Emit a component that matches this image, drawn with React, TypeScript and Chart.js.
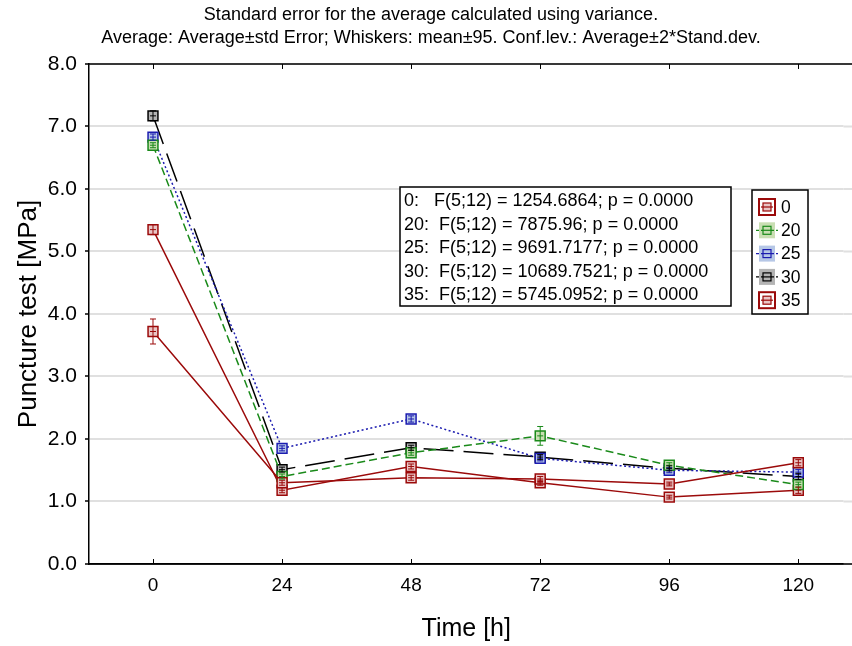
import React, { useEffect, useRef } from "react";
import { Chart, registerables } from "chart.js";

Chart.register(...registerables);

// ---------- data ----------
const TIMES = [0, 24, 48, 72, 96, 120];
const X_TICKS = [0, 24, 48, 72, 96, 120];
const Y_TICKS = [0, 1, 2, 3, 4, 5, 6, 7, 8];
const SERIES_LABELS = ["0", "20", "25", "30", "35"];

const VALUES_0 = [3.72, 1.3, 1.38, 1.36, 1.28, 1.62];
const VALUES_20 = [6.7, 1.4, 1.78, 2.05, 1.58, 1.27];
const VALUES_25 = [6.83, 1.85, 2.32, 1.69, 1.5, 1.47];
const VALUES_30 = [7.17, 1.51, 1.86, 1.71, 1.53, 1.4];
const VALUES_35 = [5.35, 1.18, 1.56, 1.3, 1.07, 1.18];

const ERR_0 = [0.2, 0.04, 0.04, 0.04, 0.03, 0.05];
const ERR_20 = [0.04, 0.04, 0.04, 0.15, 0.04, 0.04];
const ERR_25 = [0.05, 0.04, 0.05, 0.04, 0.04, 0.04];
const ERR_30 = [0.08, 0.04, 0.04, 0.04, 0.04, 0.05];
const ERR_35 = [0.08, 0.04, 0.04, 0.04, 0.03, 0.05];

const F_STATS = [
  "0:   F(5;12) = 1254.6864; p = 0.0000",
  "20:  F(5;12) = 7875.96; p = 0.0000",
  "25:  F(5;12) = 9691.7177; p = 0.0000",
  "30:  F(5;12) = 10689.7521; p = 0.0000",
  "35:  F(5;12) = 5745.0952; p = 0.0000",
];

const TITLE_LINES = [
  "Standard error for the average calculated using variance.",
  "Average: Average\u00b1std Error; Whiskers: mean\u00b195. Conf.lev.: Average\u00b12*Stand.dev.",
];
const X_TITLE = "Time [h]";
const Y_TITLE = "Puncture test [MPa]";

// ---------- styles ----------
const FONT = "Arial, 'Liberation Sans', sans-serif";
const STYLES = [
  { color: "#9b0a0a", fill: "#e9c6c6", dash: [] as number[], red: true },
  { color: "#1a8a1a", fill: "#c9deb3", dash: [8, 4], red: false },
  { color: "#1c1cb0", fill: "#b6c7e6", dash: [2, 2.5], red: false },
  { color: "#000000", fill: "#b4b4b4", dash: [30, 10], red: false },
  { color: "#9b0a0a", fill: "#e9c6c6", dash: [] as number[], red: true },
];
const ALL_VALUES = [VALUES_0, VALUES_20, VALUES_25, VALUES_30, VALUES_35];
const ALL_ERRS = [ERR_0, ERR_20, ERR_25, ERR_30, ERR_35];

const gridExtendPlugin = {
  id: "gridExtend",
  beforeDatasetsDraw(chart: any) {
    const { ctx, chartArea } = chart;
    const ys = chart.scales.y;
    ctx.save();
    ctx.strokeStyle = "#e0e0e0";
    ctx.lineWidth = 2;
    ctx.beginPath();
    Y_TICKS.forEach((t) => {
      const y = ys.getPixelForValue(t);
      ctx.moveTo(chartArea.right, y);
      ctx.lineTo(chart.width, y);
    });
    ctx.stroke();
    ctx.restore();
  },
};

const errorBarPlugin = {
  id: "errorBars",
  afterDatasetsDraw(chart: any) {
    const { ctx } = chart;
    const ys = chart.scales.y;
    chart.data.datasets.forEach((ds: any, di: number) => {
      const meta = chart.getDatasetMeta(di);
      const errs = ALL_ERRS[di];
      const st = STYLES[di];
      ctx.save();
      ctx.strokeStyle = st.color;
      ctx.lineWidth = 1;
      ctx.setLineDash([]);
      meta.data.forEach((pt: any, i: number) => {
        const v = ds.data[i].y;
        const e = errs[i];
        const x = pt.x;
        const y1 = ys.getPixelForValue(v + e);
        const y2 = ys.getPixelForValue(v - e);
        const yc = ys.getPixelForValue(v);
        ctx.beginPath();
        ctx.moveTo(x, y1);
        ctx.lineTo(x, y2);
        ctx.moveTo(x - 3, y1);
        ctx.lineTo(x + 3, y1);
        ctx.moveTo(x - 3, y2);
        ctx.lineTo(x + 3, y2);
        ctx.moveTo(x - 3, yc);
        ctx.lineTo(x + 3, yc);
        ctx.stroke();
      });
      ctx.restore();
    });
  },
};

const framePlugin = {
  id: "frame",
  afterDraw(chart: any) {
    const { ctx, chartArea } = chart;
    const xs = chart.scales.x;
    ctx.save();
    ctx.strokeStyle = "#000";
    ctx.lineWidth = 1.5;
    ctx.setLineDash([]);
    ctx.beginPath();
    ctx.moveTo(chartArea.left, chartArea.top);
    ctx.lineTo(chart.width, chartArea.top);
    ctx.moveTo(chartArea.left, chartArea.bottom);
    ctx.lineTo(chart.width, chartArea.bottom);
    ctx.stroke();
    ctx.lineWidth = 1;
    ctx.beginPath();
    X_TICKS.forEach((t) => {
      const x = Math.round(xs.getPixelForValue(t)) + 0.5;
      ctx.moveTo(x, chartArea.bottom);
      ctx.lineTo(x, chartArea.bottom - 5);
      ctx.moveTo(x, chartArea.top);
      ctx.lineTo(x, chartArea.top + 5);
    });
    ctx.stroke();
    ctx.restore();
  },
};

const statsPlugin = {
  id: "stats",
  afterDraw(chart: any) {
    const { ctx } = chart;
    ctx.save();
    const bx = 400, by = 187, bw = 331, bh = 119;
    ctx.fillStyle = "#fff";
    ctx.fillRect(bx, by, bw, bh);
    ctx.strokeStyle = "#000";
    ctx.lineWidth = 1.5;
    ctx.strokeRect(bx, by, bw, bh);
    ctx.fillStyle = "#000";
    ctx.font = `18px ${FONT}`;
    ctx.textBaseline = "middle";
    ctx.textAlign = "left";
    F_STATS.forEach((s, i) => {
      ctx.fillText(s, bx + 4, by + 14.5 + i * 23.5);
    });
    ctx.restore();
  },
};

const legendPlugin = {
  id: "customLegend",
  afterDraw(chart: any) {
    const { ctx } = chart;
    ctx.save();
    const lx = 752, ly = 190, lw = 56, lh = 124;
    ctx.fillStyle = "#fff";
    ctx.fillRect(lx, ly, lw, lh);
    ctx.strokeStyle = "#000";
    ctx.lineWidth = 1.5;
    ctx.strokeRect(lx, ly, lw, lh);
    chart.data.datasets.forEach((ds: any, i: number) => {
      const st = STYLES[i];
      const cy = 207 + i * 23.3;
      const cx = 767;
      ctx.setLineDash([]);
      ctx.fillStyle = st.red ? "#ffffff" : st.fill;
      ctx.fillRect(cx - 8, cy - 8, 16, 16);
      if (st.red) {
        ctx.strokeStyle = st.color;
        ctx.lineWidth = 2;
        ctx.strokeRect(cx - 8, cy - 8, 16, 16);
      }
      ctx.strokeStyle = st.color;
      ctx.lineWidth = 1.2;
      ctx.setLineDash(st.dash.length ? [3, 2] : []);
      ctx.beginPath();
      const half = st.red ? 6 : 11;
      ctx.moveTo(cx - half, cy);
      ctx.lineTo(cx + half, cy);
      ctx.stroke();
      ctx.setLineDash([]);
      ctx.fillStyle = st.fill;
      ctx.fillRect(cx - 4, cy - 4, 8, 8);
      ctx.lineWidth = 1.2;
      ctx.strokeRect(cx - 4, cy - 4, 8, 8);
      ctx.beginPath();
      ctx.moveTo(cx - 4, cy);
      ctx.lineTo(cx + 4, cy);
      ctx.stroke();
      ctx.fillStyle = "#000";
      ctx.font = `17.5px ${FONT}`;
      ctx.textBaseline = "middle";
      ctx.textAlign = "left";
      ctx.fillText(ds.label, 781, cy + 1);
    });
    ctx.restore();
  },
};

export default function App() {
  const canvasRef = useRef<HTMLCanvasElement | null>(null);

  useEffect(() => {
    const canvas = canvasRef.current;
    if (!canvas) return;
    const datasets = SERIES_LABELS.map((label, i) => ({
      label,
      data: TIMES.map((t, j) => ({ x: t, y: ALL_VALUES[i][j] })),
      borderColor: STYLES[i].color,
      backgroundColor: STYLES[i].fill,
      borderWidth: 1.5,
      borderDash: STYLES[i].dash,
      pointStyle: "rect" as const,
      pointRadius: 7,
      pointBorderWidth: 1.5,
      pointBorderColor: STYLES[i].color,
      pointBackgroundColor: STYLES[i].fill,
      tension: 0,
      fill: false,
    }));

    const chart = new Chart(canvas, {
      type: "line",
      data: { datasets },
      options: {
        animation: false,
        responsive: false,
        maintainAspectRatio: false,
        events: [],
        layout: { padding: { left: 10, right: 0, top: 0, bottom: 0 } },
        plugins: {
          legend: { display: false },
          tooltip: { enabled: false },
          title: {
            display: true,
            text: TITLE_LINES,
            color: "#000",
            font: { family: FONT, size: 18, weight: "normal", lineHeight: 1.28 },
            padding: { top: 3.5, bottom: 14.4 },
          },
        },
        scales: {
          x: {
            type: "linear",
            min: -11.9,
            max: 128.4,
            afterBuildTicks: (s: any) => {
              s.ticks = X_TICKS.map((v) => ({ value: v }));
            },
            afterFit: (s: any) => {
              s.height = 82;
            },
            grid: { display: false, drawTicks: false },
            border: { color: "#000", width: 1.5 },
            ticks: {
              color: "#000",
              font: { family: FONT, size: 19 },
              padding: 10,
              maxRotation: 0,
              autoSkip: false,
            },
            title: {
              display: true,
              text: X_TITLE,
              color: "#000",
              font: { family: FONT, size: 25, lineHeight: 1.2 },
              padding: { top: 0, bottom: 2 },
            },
          },
          y: {
            type: "linear",
            min: 0,
            max: 8,
            afterBuildTicks: (s: any) => {
              s.ticks = Y_TICKS.map((v) => ({ value: v }));
            },
            afterFit: (s: any) => {
              s.width = 79;
            },
            grid: {
              color: "#e0e0e0",
              lineWidth: 2,
              tickColor: "#000",
              tickLength: 4,
              tickWidth: 1.5,
            },
            border: { color: "#000", width: 1.5 },
            ticks: {
              color: "#000",
              font: { family: FONT, size: 21 },
              padding: 8,
              callback: (v: any) => Number(v).toFixed(1),
            },
            title: {
              display: true,
              text: Y_TITLE,
              color: "#000",
              font: { family: FONT, size: 26, lineHeight: 1.2 },
              padding: { top: 3, bottom: 0 },
            },
          },
        },
      } as any,
      plugins: [gridExtendPlugin, errorBarPlugin, framePlugin, statsPlugin, legendPlugin],
    });
    return () => chart.destroy();
  }, []);

  return (
    <div
      style={{
        position: "fixed",
        left: 0,
        top: 0,
        width: 852,
        height: 646,
        background: "#fff",
        overflow: "hidden",
      }}
    >
      <canvas
        ref={canvasRef}
        width={852}
        height={646}
        style={{ display: "block", width: 852, height: 646 }}
      />
    </div>
  );
}
